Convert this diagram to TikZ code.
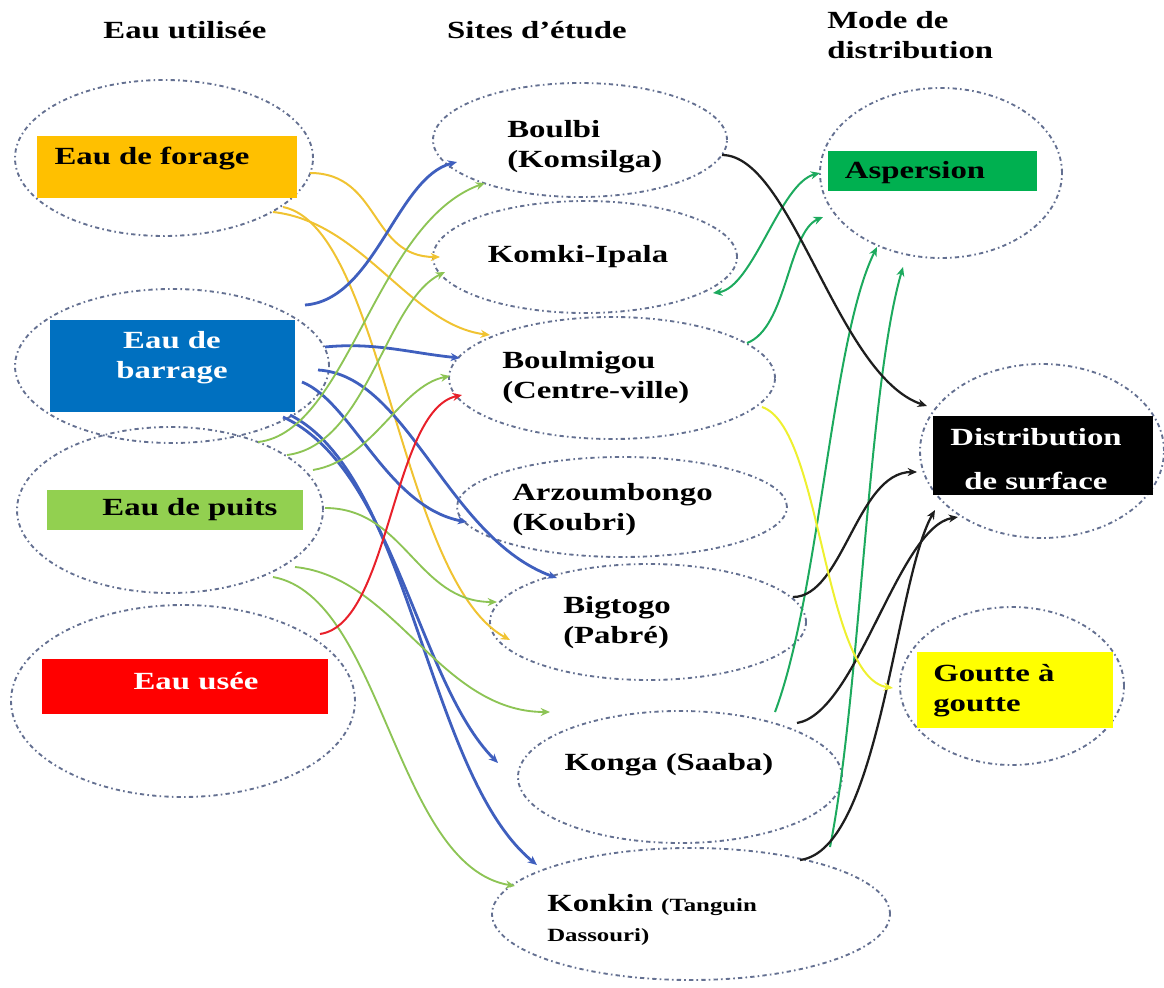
\documentclass[tikz,border=0pt]{standalone}
\usepackage{fontspec}
\setmainfont{Liberation Serif}[FakeStretch=1.33]
\usetikzlibrary{shapes.geometric,arrows.meta,calc}
\definecolor{ellc}{RGB}{100,112,145}
\definecolor{cF}{RGB}{255,192,0}
\definecolor{cB}{RGB}{0,112,192}
\definecolor{cP}{RGB}{146,208,80}
\definecolor{cR}{RGB}{255,0,0}
\definecolor{cA}{RGB}{0,176,80}
\definecolor{cY}{RGB}{255,255,0}
\definecolor{lYel}{RGB}{240,195,50}
\definecolor{lBlu}{RGB}{63,95,190}
\definecolor{lGrn}{RGB}{141,196,85}
\definecolor{lRed}{RGB}{232,32,42}
\definecolor{lAsp}{RGB}{29,170,94}
\definecolor{lBlk}{RGB}{30,30,30}
\definecolor{lGou}{RGB}{238,240,48}
\tikzset{
  ell/.style 2 args={ellipse,draw=ellc,line width=1.4pt,dash pattern=on 3.2pt off 2.4pt on 1.2pt off 2.4pt,minimum width=#1*1.5pt,minimum height=#2*1.5pt,inner sep=0pt,outer sep=0pt},
  box/.style 2 args={rectangle,inner sep=0pt,outer sep=0pt,minimum width=#1*0.75pt,minimum height=#2*0.75pt,anchor=north west},
  txt/.style={font=\fontsize{18.5}{22.5}\selectfont\bfseries,inner sep=0pt},
  con/.style={-{Stealth[length=7pt,width=6pt]}},
  yel/.style={con,draw=lYel,line width=1.5pt},
  blu/.style={con,draw=lBlu,line width=2.1pt},
  grn/.style={con,draw=lGrn,line width=1.4pt},
  red/.style={con,draw=lRed,line width=1.5pt},
  asp/.style={con,draw=lAsp,line width=1.5pt},
  blk/.style={con,draw=lBlk,line width=1.7pt},
  gou/.style={con,draw=lGou,line width=1.5pt}
}
\begin{document}
\begin{tikzpicture}[x=0.75pt,y=-0.75pt]
\useasboundingbox (0,0) rectangle (1164,988);

% headers
\node[txt] (hU) at (185,30) {Eau utilisée};
\node[txt] (hS) at (537,30) {Sites d’étude};
\node[txt,align=left,anchor=west] (hM) at (827,35) {Mode de\\distribution};

% ellipses
\node[ell={149}{78}] (eF) at (164,158) {};
\node[ell={157}{77}] (eB) at (172,366) {};
\node[ell={153}{83}] (eP) at (170,510) {};
\node[ell={172}{96}] (eU) at (183,701) {};
\node[ell={147}{57}] (s1) at (580,140) {};
\node[ell={152}{56}] (s2) at (585,257) {};
\node[ell={163}{61}] (s3) at (612,378) {};
\node[ell={165}{50}] (s4) at (622,507) {};
\node[ell={158}{58}] (s5) at (648,622) {};
\node[ell={162}{66}] (s6) at (680,777) {};
\node[ell={199}{66}] (s7) at (691,914) {};
\node[ell={121}{85}] (mA) at (941,173) {};
\node[ell={122}{87}] (mD) at (1042,451) {};
\node[ell={112}{79}] (mG) at (1012,686) {};

% coloured boxes
\node[box={260}{62},fill=cF] (rF) at (37,136) {};
\node[box={245}{92},fill=cB] (rB) at (50,320) {};
\node[box={256}{40},fill=cP] (rP) at (47,490) {};
\node[box={286}{55},fill=cR] (rU) at (42,659) {};
\node[box={209}{40},fill=cA] (rA) at (828,151) {};
\node[box={220}{79},fill=black] (rD) at (933,416) {};
\node[box={196}{76},fill=cY] (rG) at (917,652) {};

% texts
\node[txt] (tF) at (152,159) {Eau de forage};
\node[txt,white,align=center] (tB) at (172,358) {Eau de\\barrage};
\node[txt] (tP) at (190,510) {Eau de puits};
\node[txt,white] (tU) at (196,681) {Eau usée};
\node[txt,anchor=west,align=left] (t1) at (507,147) {Boulbi\\(Komsilga)};
\node[txt] (t2) at (578,257) {Komki-Ipala};
\node[txt,anchor=west,align=left] (t3) at (502,378) {Boulmigou\\(Centre-ville)};
\node[txt,anchor=west,align=left] (t4) at (512,510) {Arzoumbongo\\(Koubri)};
\node[txt,anchor=west,align=left] (t5) at (563,623) {Bigtogo\\(Pabré)};
\node[txt] (t6) at (669,765) {Konga (Saaba)};
\node[txt,anchor=west,align=left] (t7) at (547,920) {Konkin {\fontsize{14}{19}\selectfont(Tanguin}\\{\fontsize{14}{19}\selectfont Dassouri)}};
\node[txt] (tA) at (915,173) {Aspersion};
\node[txt,white,align=center] (tD) at (1036,459) {Distribution\\[11pt]de surface};
\node[txt,anchor=west,align=left] (tG) at (933,691) {Goutte à\\goutte};

% forage
\draw[yel] ($(eF)+(146,15)$) .. controls +(70,0) and +(-70,0) .. ($(s2)+(-145,0)$);
\draw[yel] ($(eF)+(109,54)$) .. controls +(90,10) and +(-80,-10) .. ($(s3)+(-122,-43)$);
\draw[yel] ($(eF)+(119,49)$) .. controls +(100,20) and +(-110,-60) .. ($(s5)+(-138,18)$);

% barrage
\draw[blu] ($(eB)+(133,-61)$) .. controls +(70,-5) and +(-60,15) .. ($(s1)+(-123,22)$);
\draw[blu] ($(eB)+(153,-19)$) .. controls +(50,-5) and +(-50,-5) .. ($(s3)+(-152,-20)$);
\draw[blu] ($(eB)+(146,4)$) .. controls +(90,5) and +(-110,-40) .. ($(s5)+(-91,-44)$);
\draw[blu] ($(eB)+(130,16)$) .. controls +(50,20) and +(-80,-15) .. ($(s4)+(-155,15)$);
\draw[blu] ($(eB)+(111,51)$) .. controls +(110,50) and +(-80,-80) .. ($(s6)+(-182,-14)$);
\draw[blu] ($(eB)+(118,49)$) .. controls +(120,60) and +(-110,-90) .. ($(s7)+(-154,-49)$);

% puits
\draw[grn] ($(eP)+(88,-68)$) .. controls +(90,-10) and +(-110,40) .. ($(s1)+(-95,43)$);
\draw[grn] ($(eP)+(117,-55)$) .. controls +(80,-10) and +(-60,30) .. ($(s2)+(-140,15)$);
\draw[grn] ($(eP)+(143,-40)$) .. controls +(60,-10) and +(-50,10) .. ($(s3)+(-162,-2)$);
\draw[grn] ($(eP)+(155,-2)$) .. controls +(80,0) and +(-80,0) .. ($(s5)+(-151,-20)$);
\draw[grn] ($(eP)+(125,57)$) .. controls +(100,10) and +(-110,0) .. ($(s6)+(-130,-65)$);
\draw[grn] ($(eP)+(103,67)$) .. controls +(110,20) and +(-120,-20) .. ($(s7)+(-176,-28)$);

% usee
\draw[red] ($(eU)+(137,-67)$) .. controls +(70,-10) and +(-70,15) .. ($(s3)+(-150,17)$);

% aspersion
\draw[asp,{Stealth[length=7pt,width=6pt]}-{Stealth[length=7pt,width=6pt]}] ($(s2)+(128,36)$) .. controls +(40,-5) and +(-40,10) .. ($(mA)+(-121,0)$);
\draw[asp] ($(s3)+(135,-35)$) .. controls +(40,-15) and +(-35,15) .. ($(mA)+(-118,44)$);
\draw[asp] ($(s6)+(95,-65)$) .. controls +(45,-120) and +(-45,90) .. ($(mA)+(-64,74)$);
\draw[asp] ($(s7)+(139,-67)$) .. controls +(30,-150) and +(-35,120) .. ($(mA)+(-38,94)$);

% distribution de surface
\draw[blk] ($(s1)+(142,15)$) .. controls +(70,0) and +(-90,-30) .. ($(mD)+(-115,-45)$);
\draw[blk] ($(s5)+(145,-25)$) .. controls +(50,0) and +(-60,0) .. ($(mD)+(-125,21)$);
\draw[blk] ($(s6)+(117,-54)$) .. controls +(60,-10) and +(-60,10) .. ($(mD)+(-84,66)$);
\draw[blk] ($(s7)+(109,-54)$) .. controls +(80,-10) and +(-40,70) .. ($(mD)+(-107,59)$);

% goutte a goutte
\draw[gou] ($(s3)+(150,29)$) .. controls +(60,20) and +(-70,-10) .. ($(mG)+(-119,2)$);
\end{tikzpicture}
\end{document}
